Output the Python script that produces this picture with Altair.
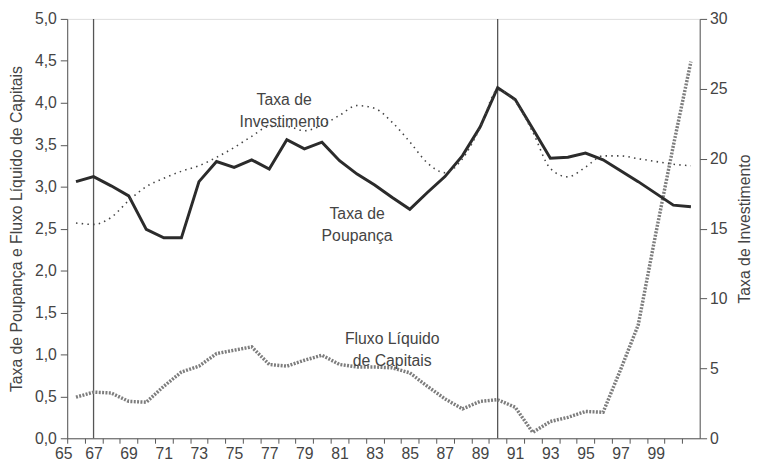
import altair as alt
import pandas as pd

# years 1966..2001 written as 66..101
years = list(range(66, 102))

poupanca = [3.06, 3.12, 3.01, 2.89, 2.49, 2.39, 2.39, 3.06, 3.30, 3.23,
            3.32, 3.21, 3.56, 3.45, 3.53, 3.31, 3.15, 3.02, 2.87, 2.73,
            2.93, 3.12, 3.37, 3.71, 4.18, 4.04, 3.69, 3.34, 3.35, 3.40,
            3.32, 3.19, 3.06, 2.92, 2.78, 2.76]

investimento = [15.4, 15.3, 15.8, 17.0, 18.0, 18.6, 19.1, 19.5, 20.1, 20.8,
                21.6, 22.3, 22.3, 22.0, 22.4, 23.1, 23.8, 23.6, 22.6, 21.2,
                19.7, 19.0, 20.0, 22.2, 24.9, 24.1, 21.9, 19.3, 18.7, 19.4,
                20.2, 20.2, 20.0, 19.8, 19.6, 19.5]

fluxo = [0.49, 0.55, 0.54, 0.44, 0.43, 0.62, 0.79, 0.86, 1.01, 1.05,
         1.09, 0.88, 0.86, 0.93, 0.99, 0.88, 0.85, 0.85, 0.84, 0.78,
         0.62, 0.47, 0.35, 0.44, 0.46, 0.37, 0.07, 0.20, 0.25, 0.32,
         0.31, 0.82, 1.35, 2.44, 3.49, 4.49]

marcos = [67, 90]

rotulos = ["Taxa de\nInvestimento", "Taxa de\nPoupança", "Fluxo Líquido\nde Capitais"]
rotulo_x = [77.85, 82.0, 84.0]
rotulo_y = [4.03, 2.67, 1.18]

FONT = "Liberation Sans"
TXT = "#444444"
AX = "#555555"

df = pd.DataFrame({"ano": years, "poup": poupanca, "inv": investimento, "fluxo": fluxo})
df_m = pd.DataFrame({"ano": marcos})
df_r = pd.DataFrame({"x": rotulo_x, "y": rotulo_y, "t": rotulos})

x_ticks = [v + 0.5 for v in range(65, 101)]

x_scale = alt.Scale(domain=[65.5, 101.5], nice=False, zero=False)
x_axis = alt.Axis(
    values=x_ticks,
    labelExpr="floor(datum.value) % 2 == 1 ? toString(floor(datum.value)) : ''",
    labelOffset={"condition": {"test": "datum.value == 65.5", "value": -4}, "value": -9},
    labelOverlap=False, labelFlush=False, labelBound=False,
    grid=False, tickSize=5, labelPadding=2, domainColor=AX, tickColor=AX,
    labelFont=FONT, labelFontSize=16, labelColor=TXT, title=None,
)

LEFT_TITLE = "Taxa de Poupança e Fluxo Líquido de Capitais"

yl_scale = alt.Scale(domain=[0, 5], nice=False)
yl_axis = alt.Axis(
    values=[i * 0.5 for i in range(11)],
    labelExpr="replace(format(datum.value, '.1f'), '.', ',')",
    title=LEFT_TITLE, titleLimit=600,
    titleFont=FONT, titleFontSize=16, titleFontWeight="normal", titleColor=TXT,
    titlePadding=10,
    labelFont=FONT, labelFontSize=16, labelColor=TXT, labelPadding=4,
    tickSize=7, grid=False, domainColor=AX, tickColor=AX,
)

yr_scale = alt.Scale(domain=[0, 30], nice=False)
yr_axis = alt.Axis(
    orient="right",
    values=[0, 5, 10, 15, 20, 25, 30],
    title="Taxa de Investimento", titleAngle=270, titleBaseline="top", titleLimit=600,
    titleFont=FONT, titleFontSize=16, titleFontWeight="normal", titleColor=TXT,
    titlePadding=10,
    labelFont=FONT, labelFontSize=16, labelColor=TXT, labelPadding=3,
    tickSize=7, grid=False, domainColor=AX, tickColor=AX,
)

base = alt.Chart(df)
X = alt.X("ano:Q", scale=x_scale, axis=x_axis)

rules = alt.Chart(df_m).mark_rule(color="#555555", strokeWidth=1.3).encode(
    x=alt.X("ano:Q", scale=x_scale, axis=x_axis),
    y=alt.value(0), y2=alt.value(425),
)

fluxo_line = base.mark_line(color="#7d7d7d", strokeWidth=3.5, strokeDash=[2, 1.4]).encode(
    x=X, y=alt.Y("fluxo:Q", scale=yl_scale, axis=yl_axis)
)

poup_line = base.mark_line(color="#2b2b2b", strokeWidth=3).encode(
    x=X, y=alt.Y("poup:Q", scale=yl_scale, axis=yl_axis)
)

labels = alt.Chart(df_r).mark_text(
    font=FONT, fontSize=16, color=TXT, align="center", baseline="middle",
    lineBreak="\n", lineHeight=22,
).encode(
    x=alt.X("x:Q", scale=x_scale, axis=x_axis),
    y=alt.Y("y:Q", scale=yl_scale, axis=yl_axis),
    text="t:N",
)

left = alt.layer(rules, fluxo_line, poup_line, labels)

inv_line = base.mark_line(color="#444444", strokeWidth=1.6, strokeDash=[1.5, 4.3],
                          interpolate="monotone").encode(
    x=X, y=alt.Y("inv:Q", scale=yr_scale, axis=yr_axis)
)

chart = alt.layer(left, inv_line).resolve_scale(y="independent").properties(
    width=641, height=425,
    autosize=alt.AutoSizeParams(type="none"),
    padding={"left": 60, "top": 8, "right": 53, "bottom": 22},
).configure_view(stroke=AX, strokeWidth=1.2).configure(background="white")

chart.save("out.html", embed_options={"renderer": "svg", "actions": False})
